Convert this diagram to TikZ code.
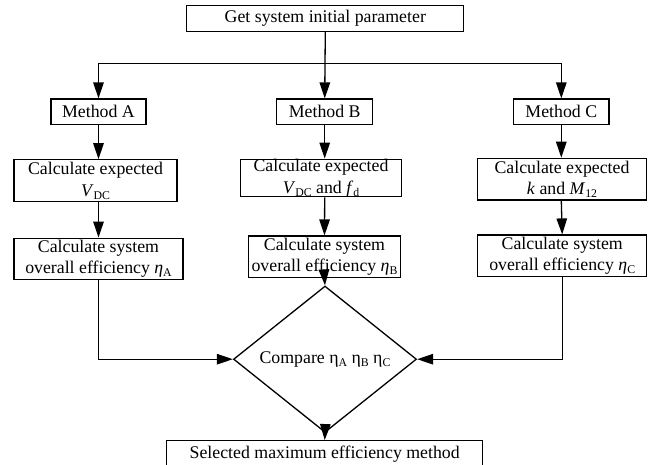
\documentclass[tikz,border=0pt]{standalone}
\usepackage{fontspec}
\setmainfont{Liberation Serif}
\usetikzlibrary{shapes.geometric,arrows.meta}
\newcommand\mysub[1]{\raisebox{-3pt}{\fontsize{11.8}{12}\selectfont #1}}
\begin{document}
\begin{tikzpicture}[x=1pt,y=-1pt,
  font=\fontsize{17.8}{21.5}\selectfont,
  box/.style={draw,line width=1.3pt,inner sep=0pt,align=center},
  arr/.style={line width=1.3pt,-{Triangle[length=16pt,width=10.5pt]}},
  ln/.style={line width=1.3pt}]
\useasboundingbox (0,0) rectangle (653,465);
\fill[white] (0,0) rectangle (653,465);
\clip (0,0) rectangle (653,465);

\node[box,minimum width=277pt,minimum height=26pt] (top) at (325.3,18.2) {Get system initial parameter};
\coordinate (split) at (325.3,63.3);

\node[box,minimum width=95pt,minimum height=25.3pt] (ma) at (98.5,111.7) {Method A};
\node[box,minimum width=96pt,minimum height=25.3pt] (mb) at (324.7,111.7) {Method B};
\node[box,minimum width=95.3pt,minimum height=25.3pt] (mc) at (561.3,111.7) {Method C};

\node[box,minimum width=163pt,minimum height=42pt] (a1) at (95.5,180.8) {Calculate expected\\\textit{V}\mysub{DC}};
\node[box,minimum width=161pt,minimum height=37.5pt] (b1) at (321,178) {Calculate expected\\\textit{V}\mysub{DC} and \textit{f}\mysub{d}};
\node[box,minimum width=169pt,minimum height=41.7pt] (c1) at (562,179.2) {Calculate expected\\\textit{k} and \textit{M}\mysub{12}};

\node[box,minimum width=169pt,minimum height=41pt] (a2) at (98.5,258.7) {Calculate system\\overall efficiency \textit{η}\mysub{A}};
\node[box,minimum width=152.4pt,minimum height=41.3pt] (b2) at (324.5,256.7) {Calculate system\\overall efficiency \textit{η}\mysub{B}};
\node[box,minimum width=169pt,minimum height=41.3pt] (c2) at (562.2,255.7) {Calculate system\\overall efficiency \textit{η}\mysub{C}};

\node[diamond,draw,line width=1.3pt,inner sep=0pt,minimum width=183pt,minimum height=94pt] (cmp) at (325,359.2) {Compare η\mysub{A} η\mysub{B} η\mysub{C}};

\node[box,minimum width=316pt,minimum height=27pt] (sel) at (324.7,454.2) {Selected maximum efficiency method};

\draw[arr] (top.south) -- (mb.north);
\draw[arr] (split) -| (ma.north);
\draw[arr] (split) -| (mc.north);
\draw[arr] (ma.south) -- (ma.south |- a1.north);
\draw[arr] (mb.south) -- (mb.south |- b1.north);
\draw[arr] (mc.south) -- (mc.south |- c1.north);
\draw[arr] (ma.south |- a1.south) -- (a2.north);
\draw[arr] (mb.south |- b1.south) -- (b2.north);
\draw[arr] (mc.south |- c1.south) -- (c2.north);
\draw[arr] (a2.south) |- (cmp.west);
\draw[arr] (c2.south) |- (cmp.east);
\draw[arr] (b2.south) -- (cmp.north);
\draw[arr] (cmp.south) -- (sel.north);
\end{tikzpicture}
\end{document}
